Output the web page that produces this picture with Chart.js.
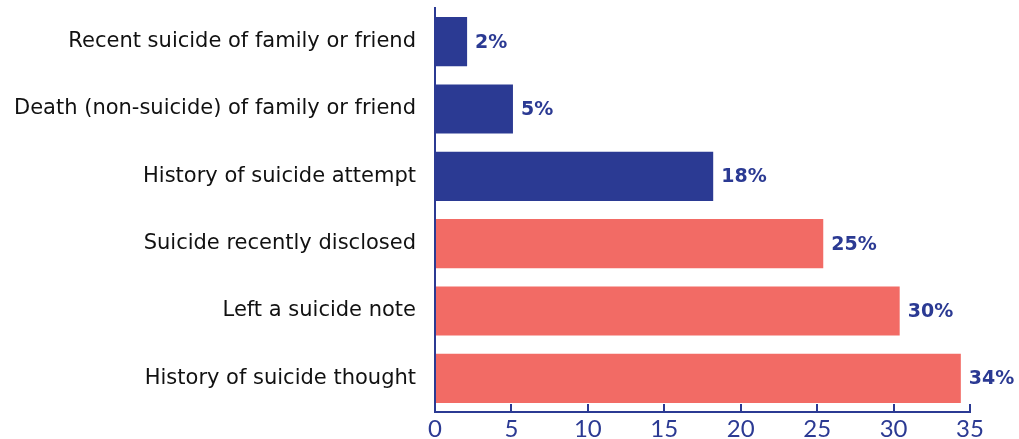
<!DOCTYPE html>
<html lang="en">
<head>
    <meta charset="UTF-8">
    <title>Suicide risk factors</title>
    <style>
        html, body { margin: 0; padding: 0; background: #fff; }
        #wrap { width: 1019px; height: 439px; }
    </style>
    <script src="https://cdn.jsdelivr.net/npm/chart.js"></script>
</head>
<body>
    <div id="wrap"><canvas id="barChart"></canvas></div>
    <script>
        // data
        const categories = [
            "Recent suicide of family or friend",
            "Death (non-suicide) of family or friend",
            "History of suicide attempt",
            "Suicide recently disclosed",
            "Left a suicide note",
            "History of suicide thought"
        ];
        const values = [2.1, 5.1, 18.2, 25.4, 30.4, 34.4];
        const valueLabels = ["2%", "5%", "18%", "25%", "30%", "34%"];
        const groups = ["blue", "blue", "blue", "red", "red", "red"];
        const xTicks = [0, 5, 10, 15, 20, 25, 30, 35];

        const BLUE = "#2b3a93";
        const RED = "#f26b65";

        // draws the % next to each bar
        const valueLabelPlugin = {
            id: "valueLabels",
            afterDatasetsDraw(chart) {
                const ctx = chart.ctx;
                const meta = chart.getDatasetMeta(0);
                ctx.save();
                ctx.fillStyle = BLUE;
                ctx.font = "bold 19px 'DejaVu Sans'";
                ctx.textBaseline = "middle";
                ctx.textAlign = "left";
                meta.data.forEach((bar, i) => {
                    ctx.fillText(valueLabels[i], bar.x + 8, bar.y + 1);
                });
                ctx.restore();
            }
        };

        new Chart(document.getElementById("barChart"), {
            type: "bar",
            data: {
                labels: categories,
                datasets: [{
                    data: values,
                    backgroundColor: groups.map(g => g === "blue" ? BLUE : RED),
                    barPercentage: 0.81,
                    categoryPercentage: 0.9
                }]
            },
            options: {
                indexAxis: "y",
                responsive: true,
                maintainAspectRatio: false,
                animation: false,
                layout: { padding: { top: 8, right: 49, left: 0, bottom: 0 } },
                plugins: {
                    legend: { display: false },
                    tooltip: { enabled: false }
                },
                scales: {
                    x: {
                        min: 0,
                        max: 35,
                        afterBuildTicks: (scale) => { scale.ticks = xTicks.map(v => ({ value: v })); },
                        afterFit: (scale) => { scale.height = 27; scale.paddingLeft = 0; scale.paddingRight = 0; },
                        // ticks point up into the plot, like the original
                        grid: { drawOnChartArea: false, drawTicks: true, tickLength: -8, color: BLUE, lineWidth: 2 },
                        border: { display: true, color: BLUE, width: 2 },
                        ticks: { color: BLUE, font: { family: "Lato", size: 24 }, padding: 11 }
                    },
                    y: {
                        afterFit: (scale) => { scale.width = 435; scale.paddingTop = 0; scale.paddingBottom = 0; },
                        grid: { drawOnChartArea: false, drawTicks: false },
                        border: { display: true, color: BLUE, width: 2 },
                        ticks: { color: "#111", font: { family: "DejaVu Sans", size: 21 }, padding: 19 }
                    }
                }
            },
            plugins: [valueLabelPlugin]
        });
    </script>
</body>
</html>
